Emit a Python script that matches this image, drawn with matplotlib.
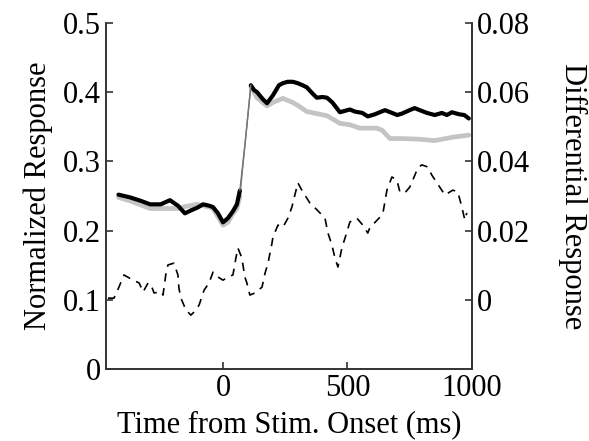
import matplotlib.pyplot as plt

# tiempos (ms) y respuestas normalizadas (eje izquierdo)
t_black = [-420, -373, -330, -293, -250, -213, -181, -153, -130, -104, -80, -55, -40, -20, 0, 20, 40, 56, 68, 90,
           112, 125, 137, 160, 177, 200, 225, 241, 260, 281, 300, 320, 337, 360, 377, 400, 418, 440, 470, 490, 510,
           530, 560, 582, 610, 630, 651, 680, 700, 719, 750, 770, 791, 820, 851, 880, 900, 920, 950, 970, 988]
v_black = [0.252, 0.248, 0.243, 0.238, 0.238, 0.244, 0.236, 0.225, 0.229, 0.233, 0.238, 0.236, 0.234, 0.225, 0.212,
           0.218, 0.228, 0.238, 0.258, 0.330, 0.410, 0.403, 0.400, 0.390, 0.384, 0.395, 0.410, 0.413, 0.415, 0.415,
           0.413, 0.410, 0.407, 0.398, 0.392, 0.393, 0.392, 0.385, 0.371, 0.373, 0.375, 0.372, 0.370, 0.365, 0.368,
           0.371, 0.374, 0.370, 0.367, 0.369, 0.374, 0.377, 0.374, 0.370, 0.367, 0.370, 0.367, 0.371, 0.368, 0.367,
           0.362]

t_gray = [-420, -373, -293, -250, -181, -150, -104, -80, -55, -40, -20, 0, 20, 40, 56, 68, 90, 112, 137, 160,
          177, 200, 241, 281, 300, 337, 377, 418, 470, 510, 550, 618, 640, 671, 720, 791, 850, 924, 988]
v_gray = [0.248, 0.243, 0.232, 0.232, 0.232, 0.235, 0.238, 0.236, 0.234, 0.232, 0.220, 0.208, 0.212, 0.225, 0.232,
          0.250, 0.330, 0.408, 0.392, 0.385, 0.380, 0.385, 0.391, 0.385, 0.381, 0.372, 0.369, 0.366, 0.355, 0.353,
          0.348, 0.348, 0.345, 0.333, 0.333, 0.332, 0.330, 0.335, 0.338]

# respuesta diferencial (eje derecho)
t_diff = [-462, -438, -418, -398, -361, -337, -321, -301, -289, -277, -249, -241, -229, -221, -197, -181, -177,
          -169, -149, -129, -116, -96, -76, -56, -40, -20, 0, 20, 40, 52, 60, 76, 88, 96, 108, 129, 157, 169, 181,
          197, 201, 221, 241, 261, 277, 289, 301, 317, 349, 378, 410, 422, 438, 450, 462, 478, 498, 510, 538, 562,
          582, 590, 631, 643, 659, 679, 699, 711, 731, 751, 763, 783, 799, 823, 839, 871, 892, 924, 944, 960, 972, 980]
v_diff = [0.0005, 0.0005, 0.0037, 0.0072, 0.0057, 0.0049, 0.0023, 0.0049, 0.0043, 0.0020, 0.0023, 0.0014, 0.0077,
          0.0101, 0.0106, 0.0072, 0.0034, 0.0005, -0.0029, -0.0044, -0.0035, -0.0015, 0.0028, 0.0049, 0.0080, 0.0066,
          0.0057, 0.0066, 0.0072, 0.0121, 0.0150, 0.0121, 0.0066, 0.0049, 0.0014, 0.0020, 0.0037, 0.0077, 0.0106,
          0.0164, 0.0182, 0.0216, 0.0210, 0.0236, 0.0268, 0.0303, 0.0338, 0.0317, 0.0280, 0.0260, 0.0236, 0.0193,
          0.0158, 0.0121, 0.0095, 0.0150, 0.0196, 0.0225, 0.0236, 0.0216, 0.0193, 0.0208, 0.0239, 0.0251, 0.0317,
          0.0355, 0.0346, 0.0312, 0.0309, 0.0326, 0.0346, 0.0381, 0.0390, 0.0384, 0.0361, 0.0326, 0.0303, 0.0317,
          0.0312, 0.0268, 0.0231, 0.0251]

# inicio y fin de la subida rápida (se dibuja fina)
rise_start, rise_end = 68, 112

plt.rcParams['font.family'] = 'Liberation Serif'
fs = 22


def plot_trace(ax, t, v, color, lw):
    pre = [(a, b) for a, b in zip(t, v) if a <= rise_start]
    rise = [(a, b) for a, b in zip(t, v) if rise_start <= a <= rise_end]
    post = [(a, b) for a, b in zip(t, v) if a >= rise_end]
    for seg in (pre, post):
        ax.plot([p[0] for p in seg], [p[1] for p in seg], color=color, linewidth=lw,
                solid_joinstyle='round', solid_capstyle='round')
    ax.plot([p[0] for p in rise], [p[1] for p in rise], color='#777777', linewidth=1.0)


fig = plt.figure(figsize=(5.89, 4.41), dpi=100)
ax = fig.add_axes([0.180, 0.163, 0.621, 0.785])
ax2 = ax.twinx()

plot_trace(ax, t_gray, v_gray, '#c4c4c4', 3.4)
plot_trace(ax, t_black, v_black, 'black', 3.0)
ax2.plot(t_diff, v_diff, color='black', linewidth=1.2, linestyle=(0, (5, 4)))

ax.set_xlim(-470, 1000)
ax.set_ylim(0, 0.5)
ax2.set_ylim(-0.02, 0.08)

ax.set_xticks([0, 500, 1000])
ax.set_yticks([0, 0.1, 0.2, 0.3, 0.4, 0.5])
ax.set_yticklabels(['0', '0.1', '0.2', '0.3', '0.4', '0.5'])
ax2.set_yticks([0, 0.02, 0.04, 0.06, 0.08])
ax2.set_yticklabels(['0', '0.02', '0.04', '0.06', '0.08'])

for a in (ax, ax2):
    a.spines['top'].set_visible(False)
    for s in ('left', 'right', 'bottom'):
        a.spines[s].set_color('#333333')
        a.spines[s].set_linewidth(1.2)
    a.tick_params(direction='in', length=5, width=1.2, color='#333333', labelsize=fs)

ax.set_xlabel('Time from Stim. Onset (ms)', fontsize=fs, labelpad=5)
ax.set_ylabel('Normalized Response', fontsize=fs, labelpad=7)
ax2.set_ylabel('Differential Response', fontsize=fs, rotation=270, labelpad=41)

plt.savefig('out.png', dpi=100)
plt.close()
